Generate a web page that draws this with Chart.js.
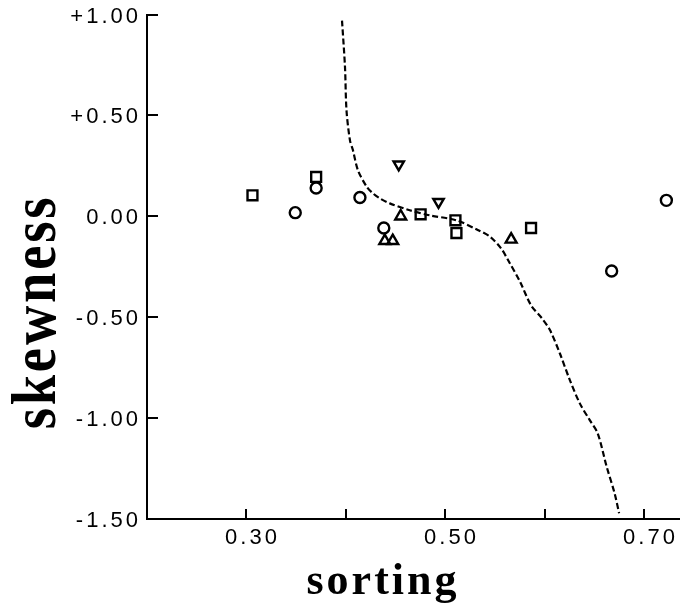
<!DOCTYPE html>
<html>
<head>
<meta charset="utf-8">
<script src="https://cdn.jsdelivr.net/npm/chart.js@4/dist/chart.umd.min.js"></script>
<style>
  html, body { margin: 0; padding: 0; background: #fff; }
  #wrap { width: 680px; height: 603px; }
</style>
</head>
<body>
<div id="wrap"><canvas id="chart" width="680" height="603"></canvas></div>
<script>
// sorting / skewness values
const squaresX = [0.306, 0.370, 0.475, 0.510, 0.511, 0.586];
const squaresY = [0.104, 0.195, 0.010, -0.020, -0.083, -0.058];

const circlesX = [0.349, 0.370, 0.414, 0.438, 0.667, 0.722];
const circlesY = [0.018, 0.140, 0.093, -0.058, -0.271, 0.079];

const trianglesX = [0.439, 0.447, 0.455, 0.566];
const trianglesY = [-0.122, -0.122, 0.000, -0.115];

const invTrianglesX = [0.453, 0.493];
const invTrianglesY = [0.257, 0.071];

// dashed boundary curve
const curveX = [0.396, 0.399, 0.4005, 0.404, 0.407, 0.412, 0.421, 0.427, 0.434, 0.444, 0.464, 0.484, 0.511, 0.533, 0.545, 0.556, 0.563, 0.575, 0.586, 0.597, 0.605, 0.615, 0.625, 0.635, 0.645, 0.653, 0.662, 0.670, 0.6745];
const curveY = [0.970, 0.739, 0.525, 0.376, 0.327, 0.228, 0.145, 0.114, 0.089, 0.064, 0.030, 0.005, -0.020, -0.069, -0.102, -0.160, -0.218, -0.325, -0.441, -0.506, -0.564, -0.680, -0.812, -0.927, -1.010, -1.076, -1.241, -1.373, -1.472];

// axes
const xTicks = [0.3, 0.4, 0.5, 0.6, 0.7];
const xTickLabels = ['0.30', '', '0.50', '', '0.70'];
const yTicks = [1.0, 0.5, 0.0, -0.5, -1.0, -1.5];
const yTickLabels = ['+1.00', '+0.50', '0.00', '-0.50', '-1.00', '-1.50'];

const toPoints = (xs, ys) => xs.map((x, i) => ({ x: x, y: ys[i] }));

// small ticks pointing into the plot + axis titles
const extras = {
    id: 'extras',
    beforeDraw(chart) {
        chart.ctx.letterSpacing = '3px';
    },
    afterDraw(chart) {
        const ctx = chart.ctx;
        const xs = chart.scales.x, ys = chart.scales.y;
        const area = chart.chartArea;
        ctx.save();
        ctx.strokeStyle = '#000';
        ctx.lineWidth = 2;
        ctx.beginPath();
        yTicks.forEach(v => {
            const py = Math.round(ys.getPixelForValue(v));
            if (v === yTicks[yTicks.length - 1]) return;
            ctx.moveTo(area.left, py);
            ctx.lineTo(area.left + 11, py);
        });
        xTicks.forEach(v => {
            const px = Math.round(xs.getPixelForValue(v));
            ctx.moveTo(px, area.bottom);
            ctx.lineTo(px, area.bottom - 10);
        });
        ctx.stroke();

        ctx.fillStyle = '#000';
        ctx.textAlign = 'center';
        ctx.textBaseline = 'alphabetic';

        ctx.letterSpacing = '3px';
        ctx.font = 'bold 44px "Liberation Serif"';
        ctx.fillText('sorting', 383, 594);

        ctx.translate(55, 312);
        ctx.rotate(-Math.PI / 2);
        ctx.scale(0.94, 1.08);
        ctx.letterSpacing = '3px';
        ctx.font = 'bold 58px "Liberation Serif"';
        ctx.fillText('skewness', 0, 0);
        ctx.restore();
        ctx.letterSpacing = '0px';
    }
};

const open = { backgroundColor: 'rgba(0,0,0,0)', borderColor: '#000', borderWidth: 2.4 };

new Chart(document.getElementById('chart'), {
    type: 'scatter',
    data: {
        datasets: [
            Object.assign({ data: toPoints(squaresX, squaresY), pointStyle: 'rect', pointRadius: 7 }, open),
            Object.assign({ data: toPoints(circlesX, circlesY), pointStyle: 'circle', pointRadius: 5.5 }, open),
            Object.assign({ data: toPoints(trianglesX, trianglesY), pointStyle: 'triangle', pointRadius: 6.3 }, open),
            Object.assign({ data: toPoints(invTrianglesX, invTrianglesY), pointStyle: 'triangle', pointRotation: 180, pointRadius: 6 }, open),
            {
                data: toPoints(curveX, curveY),
                showLine: true,
                borderColor: '#000',
                borderWidth: 2.2,
                borderDash: [6, 3],
                pointRadius: 0,
                tension: 0.3
            }
        ]
    },
    options: {
        responsive: false,
        animation: false,
        layout: { autoPadding: false, padding: { top: 14.5, right: 0, bottom: 0, left: 0 } },
        plugins: { legend: { display: false }, tooltip: { enabled: false } },
        scales: {
            x: {
                type: 'linear',
                min: 0.2,
                max: 0.7357,
                afterBuildTicks: s => { s.ticks = xTicks.map(v => ({ value: v })); },
                afterFit: s => { s.height = 84; s.paddingLeft = 0; s.paddingRight = 0; },
                grid: { display: false, drawTicks: false },
                border: { display: true, color: '#000', width: 2 },
                ticks: {
                    color: '#000',
                    font: { family: 'Liberation Sans', size: 22 },
                    padding: 6,
                    labelOffset: 6,
                    maxRotation: 0,
                    autoSkip: false,
                    callback: (v, i) => xTickLabels[i]
                }
            },
            y: {
                type: 'linear',
                min: -1.5,
                max: 1.0,
                afterBuildTicks: s => { s.ticks = yTicks.map(v => ({ value: v })); },
                afterFit: s => { s.width = 147; s.paddingTop = 0; s.paddingBottom = 0; },
                grid: { display: false, drawTicks: false },
                border: { display: true, color: '#000', width: 2 },
                ticks: {
                    color: '#000',
                    font: { family: 'Liberation Sans', size: 22 },
                    padding: 6,
                    labelOffset: 2,
                    autoSkip: false,
                    callback: (v, i) => yTickLabels[i]
                }
            }
        }
    },
    plugins: [extras]
});
</script>
</body>
</html>
